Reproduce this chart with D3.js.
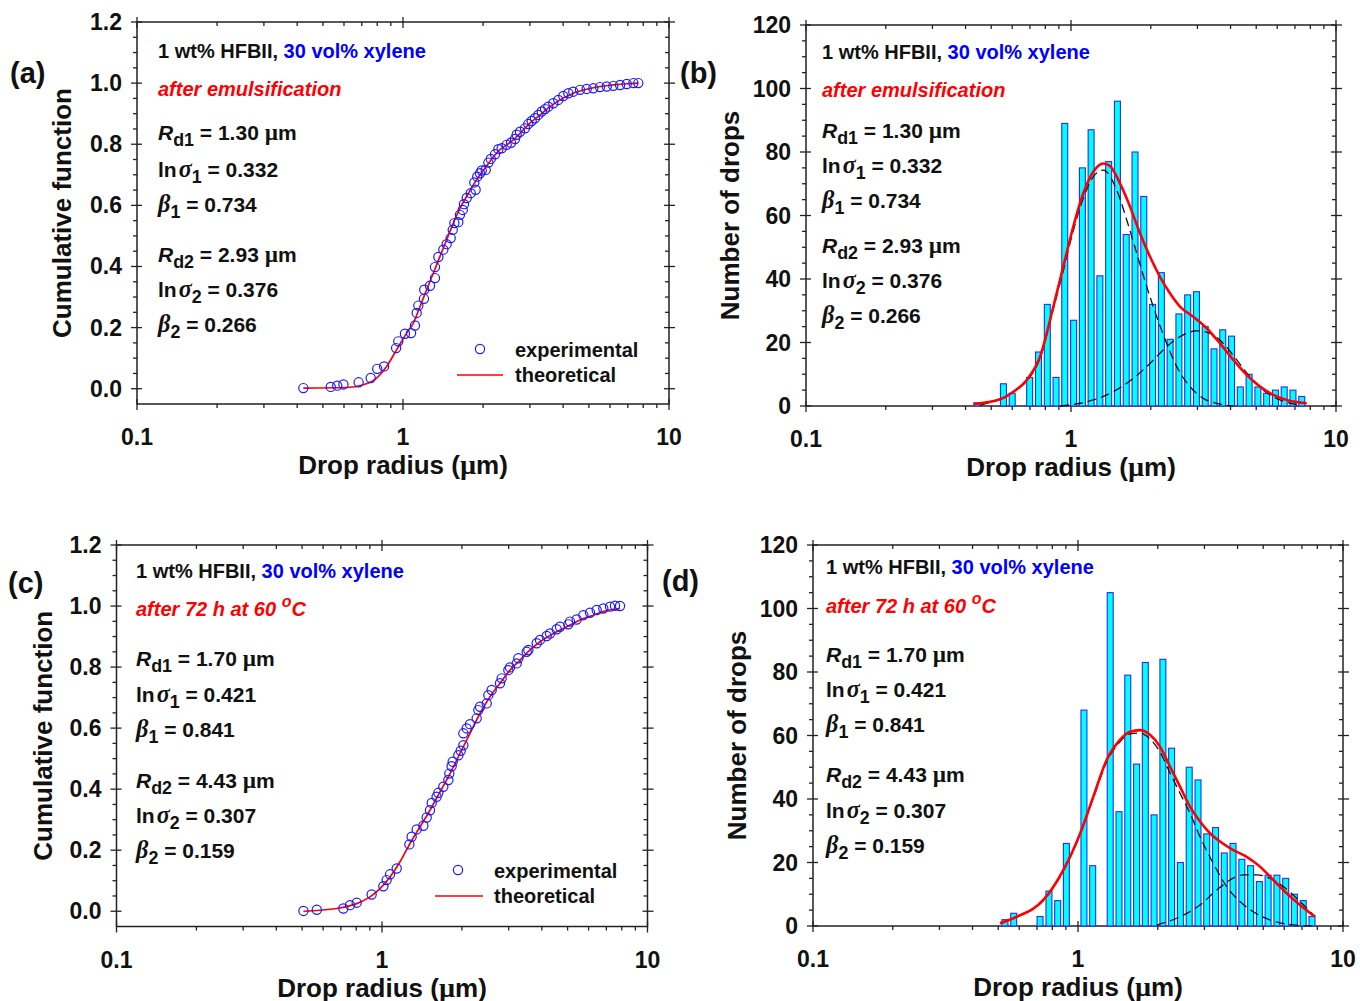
<!DOCTYPE html>
<html>
<head>
<meta charset="utf-8">
<script src="https://cdn.jsdelivr.net/npm/d3@7"></script>
<style>
  body { margin: 0; background: #fff; }
  svg { display: block; }
</style>
</head>
<body>
<script>
// ---- data ----
const xTicks = [0.1, 1, 10];
const xMinor = [0.2, 0.3, 0.4, 0.5, 0.6, 0.7, 0.8, 0.9, 2, 3, 4, 5, 6, 7, 8, 9];
const cumTicks = [0, 0.2, 0.4, 0.6, 0.8, 1.0, 1.2];
const cumMinor = [0.05, 0.1, 0.15, 0.25, 0.3, 0.35, 0.45, 0.5, 0.55, 0.65, 0.7, 0.75, 0.85, 0.9, 0.95, 1.05, 1.1, 1.15];
const countTicks = [0, 20, 40, 60, 80, 100, 120];
const countMinor = [5, 10, 15, 25, 30, 35, 45, 50, 55, 65, 70, 75, 85, 90, 95, 105, 110, 115];

// (a) cumulative, after emulsification: [radius, fraction]
const aExp = [[0.422,0.002],[0.535,0.006],[0.566,0.010],[0.597,0.014],[0.681,0.021],[0.756,0.035],[0.800,0.065],
  [0.849,0.073],[0.942,0.133],[0.960,0.155],[1.017,0.180],[1.072,0.182],[1.109,0.207],[1.126,0.248],[1.142,0.272],
  [1.199,0.294],[1.202,0.324],[1.263,0.337],[1.319,0.362],[1.319,0.398],[1.358,0.431],[1.418,0.455],[1.459,0.473],
  [1.511,0.493],[1.538,0.520],[1.560,0.542],[1.614,0.545],[1.637,0.569],[1.677,0.585],[1.695,0.604],[1.736,0.624],
  [1.797,0.640],[1.875,0.651],[1.854,0.675],[1.901,0.694],[1.947,0.705],[1.977,0.714],[2.046,0.716],[2.094,0.740],
  [2.138,0.752],[2.218,0.767],[2.282,0.784],[2.350,0.787],[2.453,0.798],[2.547,0.805],[2.636,0.817],[2.676,0.831],
  [2.754,0.841],[2.874,0.852],[2.958,0.866],[3.046,0.876],[3.133,0.885],[3.226,0.896],[3.323,0.907],[3.419,0.915],
  [3.518,0.923],[3.673,0.934],[3.835,0.945],[4.005,0.958],[4.183,0.967],[4.366,0.972],[4.627,0.978],[4.903,0.981],
  [5.193,0.983],[5.502,0.987],[5.834,0.989],[6.174,0.991],[6.546,0.994],[6.934,0.997],[7.345,1.000],[7.665,1.000]];
const aFit = [[0.422,0.002],[0.614,0.004],[0.709,0.013],[0.796,0.035],[0.868,0.073],[0.947,0.128],[1.032,0.182],
  [1.094,0.215],[1.159,0.269],[1.227,0.324],[1.300,0.378],[1.377,0.433],[1.459,0.487],[1.546,0.542],[1.638,0.591],
  [1.735,0.629],[1.838,0.667],[1.947,0.700],[2.063,0.729],[2.185,0.758],[2.315,0.782],[2.453,0.798],[2.598,0.814],
  [2.754,0.836],[3.002,0.869],[3.273,0.896],[3.569,0.923],[4.006,0.951],[4.369,0.967],[4.903,0.980],[5.503,0.989],
  [6.176,0.994],[6.934,0.998],[7.668,1.000]];
const aParams = ["1.30", "0.332", "0.734", "2.93", "0.376", "0.266"];

// (b) histogram, after emulsification
const bBins = [0.442,0.477,0.515,0.556,0.600,0.647,0.698,0.754,0.814,0.878,0.947,1.023,1.104,1.191,1.285,1.387,
  1.497,1.616,1.744,1.882,2.032,2.193,2.366,2.554,2.756,2.975,3.210,3.465,3.738,4.035,4.355,4.700,5.072,5.473,
  5.908,6.376,6.880,7.426];
const bCounts = [1,0,0,7,4,0,9,17,32,9,89,27,75,87,41,77,96,54,80,66,32,42,21,29,35,36,25,18,24,22,6,10,6,4,5,6,5,3];
const bFit = [[0.428,0.6],[0.540,2.1],[0.606,4.5],[0.681,8.2],[0.764,15.5],[0.858,31.3],[0.935,43.9],[1.020,56.5],
  [1.113,67.0],[1.214,73.8],[1.324,76.4],[1.403,75.6],[1.531,70.1],[1.670,62.8],[1.821,54.4],[1.987,47.0],
  [2.167,40.7],[2.363,35.5],[2.578,31.3],[2.894,28.1],[3.251,24.5],[3.650,19.7],[4.098,14.5],[4.603,9.8],
  [5.167,6.1],[5.799,3.5],[6.516,1.9],[7.752,0.85]];
const bComp1 = [[0.453,0.2],[0.604,4.4],[0.682,7.9],[0.764,15.1],[0.855,30.2],[0.933,42.2],[1.017,54.8],[1.110,65.2],
  [1.211,72.1],[1.324,74.3],[1.488,68.0],[1.623,58.6],[1.770,48.1],[1.931,37.6],[2.106,28.1],[2.297,19.7],
  [2.506,12.4],[2.812,6.1],[3.157,2.4],[3.650,0.6],[4.098,0]];
const bComp2 = [[0.909,0],[1.214,1.9],[1.444,4.5],[1.718,8.7],[1.987,13.4],[2.297,18.7],[2.653,22.4],[2.981,23.7],
  [3.346,22.9],[3.756,19.7],[4.221,14.5],[4.737,9.2],[5.318,5.0],[6.149,1.9],[7.314,0.3]];

// (c) cumulative, after 72 h at 60 C
const cExp = [[0.506,0.001],[0.568,0.005],[0.715,0.009],[0.758,0.020],[0.803,0.028],[0.914,0.055],[1.012,0.082],
  [1.041,0.102],[1.072,0.121],[1.136,0.140],[1.268,0.219],[1.293,0.244],[1.351,0.268],[1.431,0.280],[1.473,0.307],
  [1.516,0.331],[1.539,0.355],[1.606,0.375],[1.630,0.388],[1.702,0.408],[1.778,0.430],[1.793,0.451],[1.829,0.475],
  [1.846,0.490],[1.939,0.511],[1.979,0.526],[2.025,0.544],[2.025,0.583],[2.084,0.599],[2.145,0.613],[2.273,0.632],
  [2.306,0.659],[2.339,0.670],[2.479,0.681],[2.515,0.708],[2.589,0.725],[2.783,0.747],[2.823,0.763],[2.991,0.790],
  [3.034,0.799],[3.216,0.812],[3.263,0.829],[3.508,0.850],[3.558,0.856],[3.824,0.878],[3.936,0.889],[4.171,0.902],
  [4.294,0.910],[4.549,0.924],[4.682,0.932],[5.032,0.940],[5.105,0.949],[5.409,0.956],[5.733,0.970],[6.074,0.978],
  [6.435,0.987],[6.817,0.992],[7.225,0.998],[7.544,1.001],[7.879,1.000]];
const cFit = [[0.506,0.000],[0.675,0.009],[0.803,0.025],[0.901,0.047],[0.983,0.074],[1.072,0.112],[1.169,0.162],
  [1.275,0.222],[1.390,0.276],[1.516,0.331],[1.654,0.391],[1.804,0.451],[1.967,0.517],[2.145,0.583],[2.339,0.648],
  [2.551,0.703],[2.783,0.747],[3.034,0.790],[3.310,0.823],[3.610,0.856],[3.936,0.883],[4.419,0.910],[4.962,0.932],
  [5.570,0.954],[6.252,0.970],[7.019,0.985],[7.879,0.992]];
const cParams = ["1.70", "0.421", "0.841", "4.43", "0.307", "0.159"];

// (d) histogram, after 72 h at 60 C
const dBins = [0.530,0.572,0.617,0.667,0.719,0.777,0.838,0.904,0.976,1.053,1.136,1.227,1.323,1.428,1.541,1.664,
  1.795,1.937,2.091,2.255,2.435,2.628,2.837,3.060,3.303,3.565,3.846,4.152,4.481,4.836,5.217,5.631,6.078,6.556,
  7.076,7.638];
const dCounts = [2,4,0,0,3,11,8,26,0,68,19,0,105,36,79,51,83,35,84,56,20,50,46,29,31,23,26,21,19,14,16,16,15,10,8,3];
const dFit = [[0.508,0.85],[0.587,2.9],[0.740,8.2],[0.880,17.6],[1.017,29.0],[1.142,40.7],[1.283,52.3],[1.440,58.6],
  [1.571,61.2],[1.714,61.7],[1.870,60.2],[2.039,56.5],[2.224,50.2],[2.426,43.9],[2.646,37.6],[2.887,32.9],
  [3.149,29.2],[3.435,26.6],[3.855,23.9],[4.331,21.8],[4.862,18.7],[5.458,14.5],[6.131,10.3],[6.880,6.6],[7.843,2.9]];
const dComp1 = [[0.508,0.8],[0.587,2.8],[0.740,8.0],[0.880,17.3],[1.017,28.7],[1.142,40.3],[1.283,51.7],[1.440,58.0],
  [1.571,60.5],[1.714,60.8],[1.870,58.9],[2.039,54.8],[2.224,48.2],[2.426,41.8],[2.646,35.5],[2.887,28.1],
  [3.240,19.7],[3.640,12.4],[4.086,7.7],[4.586,4.5],[5.303,1.9],[6.131,0.6],[7.708,0]];
const dComp2 = [[1.982,0.3],[2.426,2.9],[2.887,6.6],[3.338,11.3],[3.748,14.5],[4.206,16.1],[4.725,16.1],[5.303,15.0],
  [5.954,12.4],[6.689,8.7],[7.728,3.5]];

// ---- drawing ----
const FONT = "'Liberation Sans', Arial, sans-serif";
const GREEK = "'Liberation Serif', 'Times New Roman', serif";
const RED = "#ff0000", BLUE = "#0000ff", AXIS = "#222";

const svg = d3.select("body").append("svg")
  .attr("width", 1360).attr("height", 1001)
  .attr("font-family", FONT);

// text with italic / sub / sup / greek pieces
function rich(g, x, y, parts, size, fill) {
  const t = g.append("text").attr("x", x).attr("y", y)
    .attr("font-size", size).attr("font-weight", "bold").attr("fill", fill || "#111");
  let shift = 0;
  parts.forEach(p => {
    const s = t.append("tspan").text(p.t);
    const target = p.sub ? 6 : p.sup ? -9 : 0;
    s.attr("dy", target - shift);
    shift = target;
    if (p.dx) s.attr("dx", p.dx);
    if (p.sub) s.attr("font-size", size * 0.85);
    if (p.sup) s.attr("font-size", size * 0.8);
    if (p.it) s.attr("font-style", "italic");
    if (p.greek) s.attr("font-family", GREEK).attr("font-style", "italic").attr("font-size", size * 1.15);
    if (p.mu) s.attr("font-family", GREEK).attr("font-size", size * 1.1);
    if (p.fill) s.attr("fill", p.fill);
  });
  return t;
}

function drawPanel(p) {
  const f = p.frame;
  const g = svg.append("g");
  const x = d3.scaleLog().domain([0.1, 10]).range([f.l, f.r]);
  const y = d3.scaleLinear().domain(p.yDom).range([f.b, f.t]);

  // frame
  g.append("rect").attr("x", f.l).attr("y", f.t).attr("width", f.r - f.l).attr("height", f.b - f.t)
    .attr("fill", "none").attr("stroke", AXIS).attr("stroke-width", 1.5);

  const tick = (data, fn) => g.append("g").selectAll("line").data(data).join("line")
    .each(function (d) { const c = fn(d); d3.select(this).attr("x1", c[0]).attr("y1", c[1]).attr("x2", c[2]).attr("y2", c[3]); })
    .attr("stroke", AXIS).attr("stroke-width", 1.3);

  tick(xTicks, d => [x(d), f.b - 5, x(d), f.b + 6]);
  tick(xTicks, d => [x(d), f.t - 5, x(d), f.t + 6]);
  tick(xMinor, d => [x(d), f.b, x(d), f.b + 4]);
  tick(xMinor, d => [x(d), f.t, x(d), f.t + 4]);
  tick(p.yTicks, d => [f.l - 6, y(d), f.l + 5, y(d)]);
  tick(p.yTicks, d => [f.r - 5, y(d), f.r + 6, y(d)]);
  tick(p.yMinor, d => [f.l - 4, y(d), f.l, y(d)]);
  tick(p.yMinor, d => [f.r - 4, y(d), f.r, y(d)]);

  // tick labels
  g.append("g").selectAll("text").data(xTicks).join("text")
    .attr("x", d => x(d)).attr("y", f.b + 41).attr("text-anchor", "middle")
    .attr("font-size", 23).attr("font-weight", "bold").attr("fill", "#111")
    .text(d => String(d));
  g.append("g").selectAll("text").data(p.yTicks).join("text")
    .attr("x", f.l - 15).attr("y", d => y(d) + 8).attr("text-anchor", "end")
    .attr("font-size", 23).attr("font-weight", "bold").attr("fill", "#111")
    .text(p.yFmt);

  // axis titles
  const xt = g.append("text").attr("x", (f.l + f.r) / 2).attr("y", f.b + 70).attr("text-anchor", "middle")
    .attr("font-size", 26).attr("font-weight", "bold").attr("fill", "#111");
  xt.append("tspan").text("Drop radius (");
  xt.append("tspan").attr("font-family", GREEK).attr("font-size", 28).text("µ");
  xt.append("tspan").text("m)");
  g.append("text").attr("transform", `translate(${f.l - p.yTitleOff},${(f.t + f.b) / 2}) rotate(-90)`)
    .attr("text-anchor", "middle").attr("font-size", 26).attr("font-weight", "bold").attr("fill", "#111")
    .text(p.yTitle);

  // panel label
  g.append("text").attr("x", p.label[0]).attr("y", p.label[1]).attr("font-size", 29)
    .attr("font-weight", "bold").attr("fill", "#111").text(p.label[2]);

  const line = d3.line().x(d => x(d[0])).y(d => y(d[1])).curve(d3.curveMonotoneX);

  if (p.bins) {
    const step = x(p.bins[1]) - x(p.bins[0]);
    const bw = step * 0.68;
    const bars = p.bins.map((r, i) => ({ r, n: p.counts[i] })).filter(d => d.n > 0);
    g.append("g").selectAll("rect").data(bars).join("rect")
      .attr("x", d => x(d.r) - bw / 2).attr("width", bw)
      .attr("y", d => y(d.n)).attr("height", d => y(0) - y(d.n))
      .attr("fill", "#00ffff").attr("stroke", "#2a2aff").attr("stroke-width", 1.1);
    [p.comp1, p.comp2].forEach(c => g.append("path").datum(c).attr("d", line)
      .attr("fill", "none").attr("stroke", "#111").attr("stroke-width", 1.3).attr("stroke-dasharray", "9,5"));
    g.append("path").datum(p.fit).attr("d", line)
      .attr("fill", "none").attr("stroke", RED).attr("stroke-width", 2.6);
  } else {
    g.append("path").datum(p.fit).attr("d", line)
      .attr("fill", "none").attr("stroke", RED).attr("stroke-width", 1.7);
    g.append("g").selectAll("circle").data(p.exp).join("circle")
      .attr("cx", d => x(d[0])).attr("cy", d => y(d[1])).attr("r", 4.6)
      .attr("fill", "none").attr("stroke", "#1a1aff").attr("stroke-width", 1.2);
    // legend
    const L = p.legend;
    g.append("circle").attr("cx", L.cx).attr("cy", L.cy).attr("r", 4.6)
      .attr("fill", "none").attr("stroke", "#1a1aff").attr("stroke-width", 1.2);
    g.append("line").attr("x1", L.lx1).attr("x2", L.lx2).attr("y1", L.ly).attr("y2", L.ly)
      .attr("stroke", RED).attr("stroke-width", 1.7);
    g.append("text").attr("x", L.tx).attr("y", L.cy + 8).attr("font-size", 20).attr("font-weight", "bold")
      .attr("fill", "#111").text("experimental");
    g.append("text").attr("x", L.tx).attr("y", L.ly + 7).attr("font-size", 20).attr("font-weight", "bold")
      .attr("fill", "#111").text("theoretical");
  }

  // annotations
  const N = p.note, v = p.params, tx = N.x;
  rich(g, tx, N.ys[0], [{ t: "1 wt% HFBII, " }, { t: "30 vol% xylene", fill: BLUE }], 20);
  rich(g, tx, N.ys[1], p.cond, 20, RED).attr("font-style", "italic");
  rich(g, tx, N.ys[2], [{ t: "R", it: 1 }, { t: "d1", sub: 1 }, { t: " = " + v[0] + " " }, { t: "µ", mu: 1 }, { t: "m" }], 21);
  rich(g, tx, N.ys[3], [{ t: "ln" }, { t: "σ", greek: 1, dx: 2 }, { t: "1", sub: 1 }, { t: " = " + v[1] }], 21);
  rich(g, tx, N.ys[4], [{ t: "β", greek: 1 }, { t: "1", sub: 1 }, { t: " = " + v[2] }], 21);
  rich(g, tx, N.ys[5], [{ t: "R", it: 1 }, { t: "d2", sub: 1 }, { t: " = " + v[3] + " " }, { t: "µ", mu: 1 }, { t: "m" }], 21);
  rich(g, tx, N.ys[6], [{ t: "ln" }, { t: "σ", greek: 1, dx: 2 }, { t: "2", sub: 1 }, { t: " = " + v[4] }], 21);
  rich(g, tx, N.ys[7], [{ t: "β", greek: 1 }, { t: "2", sub: 1 }, { t: " = " + v[5] }], 21);
}

const condA = [{ t: "after emulsification" }];
const condC = [{ t: "after 72 h at 60 " }, { t: "o", sup: 1 }, { t: "C" }];
const fmtCum = d3.format(".1f");

drawPanel({
  frame: { l: 137, r: 669, t: 22, b: 404 }, yDom: [-0.05, 1.2], yTicks: cumTicks, yMinor: cumMinor, yFmt: fmtCum,
  yTitle: "Cumulative function", yTitleOff: 66, label: [10, 83, "(a)"],
  exp: aExp, fit: aFit, params: aParams, cond: condA,
  note: { x: 158, ys: [58, 96, 140, 177, 212, 262, 297, 332] },
  legend: { cx: 480, cy: 349, tx: 515, lx1: 457, lx2: 503, ly: 375 }
});
drawPanel({
  frame: { l: 806, r: 1336, t: 25, b: 406 }, yDom: [0, 120], yTicks: countTicks, yMinor: countMinor, yFmt: d => d,
  yTitle: "Number of drops", yTitleOff: 67, label: [680, 83, "(b)"],
  bins: bBins, counts: bCounts, fit: bFit, comp1: bComp1, comp2: bComp2, params: aParams, cond: condA,
  note: { x: 822, ys: [59, 97, 138, 173, 208, 253, 288, 323] }
});
drawPanel({
  frame: { l: 116.5, r: 647.5, t: 545, b: 926.5 }, yDom: [-0.05, 1.2], yTicks: cumTicks, yMinor: cumMinor, yFmt: fmtCum,
  yTitle: "Cumulative function", yTitleOff: 65, label: [8, 593, "(c)"],
  exp: cExp, fit: cFit, params: cParams, cond: condC,
  note: { x: 136, ys: [578, 616, 666, 702, 737, 788, 823, 858] },
  legend: { cx: 458, cy: 870, tx: 494, lx1: 435, lx2: 483, ly: 896 }
});
drawPanel({
  frame: { l: 813, r: 1343, t: 545, b: 926 }, yDom: [0, 120], yTicks: countTicks, yMinor: countMinor, yFmt: d => d,
  yTitle: "Number of drops", yTitleOff: 67, label: [662, 591, "(d)"],
  bins: dBins, counts: dCounts, fit: dFit, comp1: dComp1, comp2: dComp2, params: cParams, cond: condC,
  note: { x: 826, ys: [574, 613, 662, 697, 732, 782, 818, 853] }
});
</script>
</body>
</html>
